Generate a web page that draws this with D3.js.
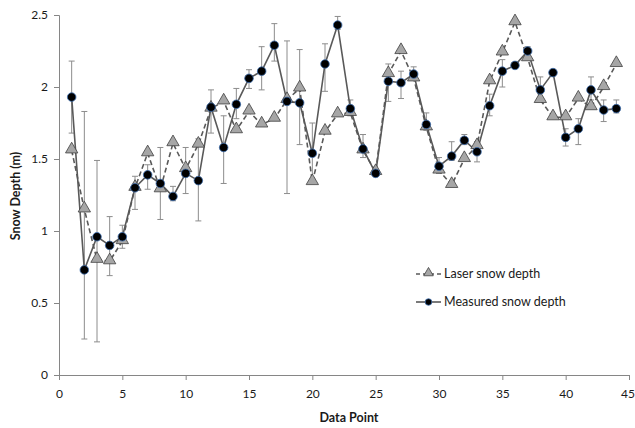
<!DOCTYPE html>
<html>
<head>
<meta charset="utf-8">
<script src="https://cdn.jsdelivr.net/npm/d3@7"></script>
<style>
  html, body { margin: 0; padding: 0; background: #fff; }
  svg { display: block; font-family: Lato, "Open Sans", sans-serif; }
</style>
</head>
<body>
<svg id="chart" width="635" height="428"></svg>
<script>
const dataPoints = d3.range(1, 45);
const laserDepth = [1.56,1.15,0.80,0.79,0.93,1.30,1.54,1.29,1.61,1.43,1.60,1.85,1.90,1.70,1.83,1.74,1.78,1.91,1.99,1.34,1.69,1.81,1.82,1.56,1.41,2.09,2.25,2.06,1.72,1.42,1.32,1.50,1.59,2.04,2.24,2.45,2.20,1.91,1.79,1.79,1.92,1.86,2.00,2.16];
const measuredDepth = [1.93,0.73,0.96,0.90,0.96,1.30,1.39,1.33,1.24,1.40,1.35,1.86,1.58,1.88,2.06,2.11,2.29,1.90,1.89,1.54,2.16,2.43,1.85,1.57,1.40,2.04,2.03,2.09,1.74,1.45,1.52,1.63,1.55,1.87,2.11,2.15,2.25,1.98,2.10,1.65,1.71,1.98,1.84,1.85];
const errorHigh = [2.18,1.83,1.49,1.10,1.04,1.38,1.46,1.58,1.31,1.58,1.64,1.98,1.80,1.99,2.12,2.28,2.44,2.32,2.26,1.75,2.30,2.49,1.91,1.67,1.42,2.16,2.11,2.14,1.82,1.51,1.62,1.67,1.62,1.95,2.19,2.17,2.28,2.07,2.10,1.71,1.78,2.07,1.91,1.91];
const errorLow  = [1.68,0.25,0.23,0.69,0.88,1.15,1.29,1.08,1.21,1.26,1.07,1.68,1.33,1.78,1.99,1.98,2.18,1.26,1.60,1.36,1.97,2.40,1.80,1.51,1.39,1.90,1.92,2.05,1.70,1.40,1.49,1.60,1.48,1.80,2.00,2.13,2.21,1.96,2.10,1.59,1.60,1.91,1.76,1.82];
const xTicks = [0,5,10,15,20,25,30,35,40,45];
const yTicks = [0,0.5,1,1.5,2,2.5];
const yTickLabels = ["0","0.5","1","1.5","2","2.5"];
const seriesNames = ["Laser snow depth", "Measured snow depth"];
const xTitle = "Data Point";
const yTitle = "Snow Depth (m)";

const svg = d3.select("#chart");
const x = d3.scaleLinear().domain([0, 45]).range([59, 629]);
const y = d3.scaleLinear().domain([0, 2.5]).range([375, 15]);

const axisColor = "#868686";
const textColor = "#1a1a1a";

// Y axis
const yAxis = svg.append("g").attr("transform", `translate(${x(0)},0)`)
  .call(d3.axisLeft(y).tickValues(yTicks).tickFormat((d, i) => yTickLabels[i]).tickSize(5).tickPadding(6));
// X axis
const xAxis = svg.append("g").attr("transform", `translate(0,${y(0)})`)
  .call(d3.axisBottom(x).tickValues(xTicks).tickFormat(d3.format("d")).tickSize(5).tickPadding(9));
[yAxis, xAxis].forEach(g => {
  g.select(".domain").attr("stroke", axisColor);
  g.selectAll(".tick line").attr("stroke", axisColor);
  g.selectAll(".tick text").attr("fill", textColor).style("font-size", "12px").style("font-family", "Lato, 'Open Sans', sans-serif");
});
xAxis.selectAll(".tick text").filter(d => d === 45).attr("dx", "-1.5");

// Titles
svg.append("text").attr("x", 349).attr("y", 422).attr("text-anchor", "middle")
  .style("font-size", "12.5px").style("font-weight", "bold").attr("fill", textColor).text(xTitle);
svg.append("text").attr("transform", `translate(20,196) rotate(-90)`).attr("text-anchor", "middle")
  .style("font-size", "12.5px").style("font-weight", "bold").attr("fill", textColor).text(yTitle);

// Error bars
const eb = svg.append("g").attr("stroke", "#8c8c8c").attr("stroke-width", 1);
dataPoints.forEach((p, i) => {
  const cx = x(p);
  eb.append("line").attr("x1", cx).attr("x2", cx).attr("y1", y(errorHigh[i])).attr("y2", y(errorLow[i]));
  eb.append("line").attr("x1", cx - 3).attr("x2", cx + 3).attr("y1", y(errorHigh[i])).attr("y2", y(errorHigh[i]));
  eb.append("line").attr("x1", cx - 3).attr("x2", cx + 3).attr("y1", y(errorLow[i])).attr("y2", y(errorLow[i]));
});

const lineColor = "#595959";
const seriesLine = d3.line().x((d, i) => x(dataPoints[i])).y(d => y(d));
svg.append("path").datum(laserDepth).attr("d", seriesLine)
  .attr("fill", "none").attr("stroke", lineColor).attr("stroke-width", 1.6).attr("stroke-dasharray", "5,3");
svg.append("path").datum(measuredDepth).attr("d", seriesLine)
  .attr("fill", "none").attr("stroke", lineColor).attr("stroke-width", 1.6);

const tri = d3.symbol().type(d3.symbolTriangle).size(66);
const triG = svg.append("g");
laserDepth.forEach((v, i) => {
  triG.append("path").attr("d", tri()).attr("transform", `translate(${x(dataPoints[i])},${y(v) - 1})`)
    .attr("fill", "#a6a6a6").attr("stroke", "#404040").attr("stroke-width", 0.8);
});
const circG = svg.append("g");
measuredDepth.forEach((v, i) => {
  circG.append("circle").attr("cx", x(dataPoints[i])).attr("cy", y(v)).attr("r", 4.3)
    .attr("fill", "#000").attr("stroke", "#3d6fb0").attr("stroke-width", 0.8);
});

// Legend
const lg = svg.append("g");
const rows = [274, 302];
lg.append("line").attr("x1", 416).attr("x2", 441).attr("y1", rows[0]).attr("y2", rows[0])
  .attr("stroke", lineColor).attr("stroke-width", 1.6).attr("stroke-dasharray", "4,3");
lg.append("path").attr("d", d3.symbol().type(d3.symbolTriangle).size(40)()).attr("transform", `translate(428.5,${rows[0] - 1})`)
  .attr("fill", "#a6a6a6").attr("stroke", "#404040").attr("stroke-width", 0.8);
lg.append("line").attr("x1", 416).attr("x2", 441).attr("y1", rows[1]).attr("y2", rows[1])
  .attr("stroke", lineColor).attr("stroke-width", 1.6);
lg.append("circle").attr("cx", 428.5).attr("cy", rows[1]).attr("r", 3.3)
  .attr("fill", "#000").attr("stroke", "#3d6fb0").attr("stroke-width", 0.8);
seriesNames.forEach((n, i) => {
  lg.append("text").attr("x", 444).attr("y", rows[i]).attr("dy", "0.35em")
    .style("font-size", "12.5px").attr("fill", textColor).text(n);
});
</script>
</body>
</html>
